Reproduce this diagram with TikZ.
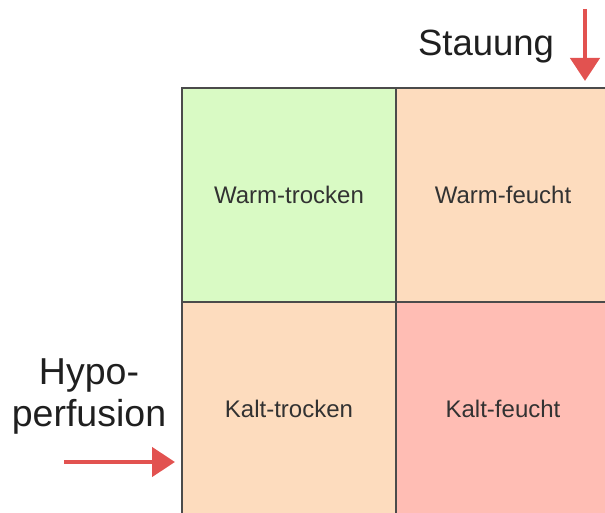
\documentclass[tikz,border=0pt]{standalone}
\usepackage{fontspec}
\setmainfont{Liberation Sans}
\usetikzlibrary{arrows.meta}
\definecolor{cgreen}{RGB}{217,250,196}
\definecolor{cpeach}{RGB}{253,220,190}
\definecolor{cred}{RGB}{255,189,180}
\definecolor{cborder}{RGB}{75,75,75}
\definecolor{carrow}{RGB}{226,82,80}
\definecolor{ctext}{RGB}{50,50,50}
\tikzset{
  cell/.style={draw=cborder, line width=1.6pt, minimum width=214pt, minimum height=214pt, inner sep=0pt, text=ctext, font=\fontsize{24}{28}\selectfont},
  lbl/.style={text=black!88, font=\fontsize{36.5}{42}\selectfont, inner sep=0pt},
  redarrow/.style={draw=carrow, line width=4.5pt, -{Triangle[length=23pt,width=29pt]}}
}
\begin{document}
\begin{tikzpicture}[x=1pt,y=-1pt]
\useasboundingbox (0,0) rectangle (605,513);
\begin{scope}
\clip (0,0) rectangle (605,513);
\node[cell, fill=cgreen] (wt) at (289,195) {Warm-trocken};
\node[cell, fill=cpeach] (wf) at (503,195) {Warm-feucht};
\node[cell, fill=cpeach] (kt) at (289,409) {Kalt-trocken};
\node[cell, fill=cred] (kf) at (503,409) {Kalt-feucht};
\end{scope}
\node[lbl] (st) at (486,47) {Stauung};
\node[lbl, align=center, font=\fontsize{37.5}{42}\selectfont] (hp) at (89,396) {Hypo-\\perfusion};
\coordinate (sa) at (585,9);
\coordinate (sb) at (585,81);
\coordinate (ha) at (64,462);
\coordinate (hb) at (175,462);
\draw[redarrow] (sa) -- (sb);
\draw[redarrow] (ha) -- (hb);
\end{tikzpicture}
\end{document}
